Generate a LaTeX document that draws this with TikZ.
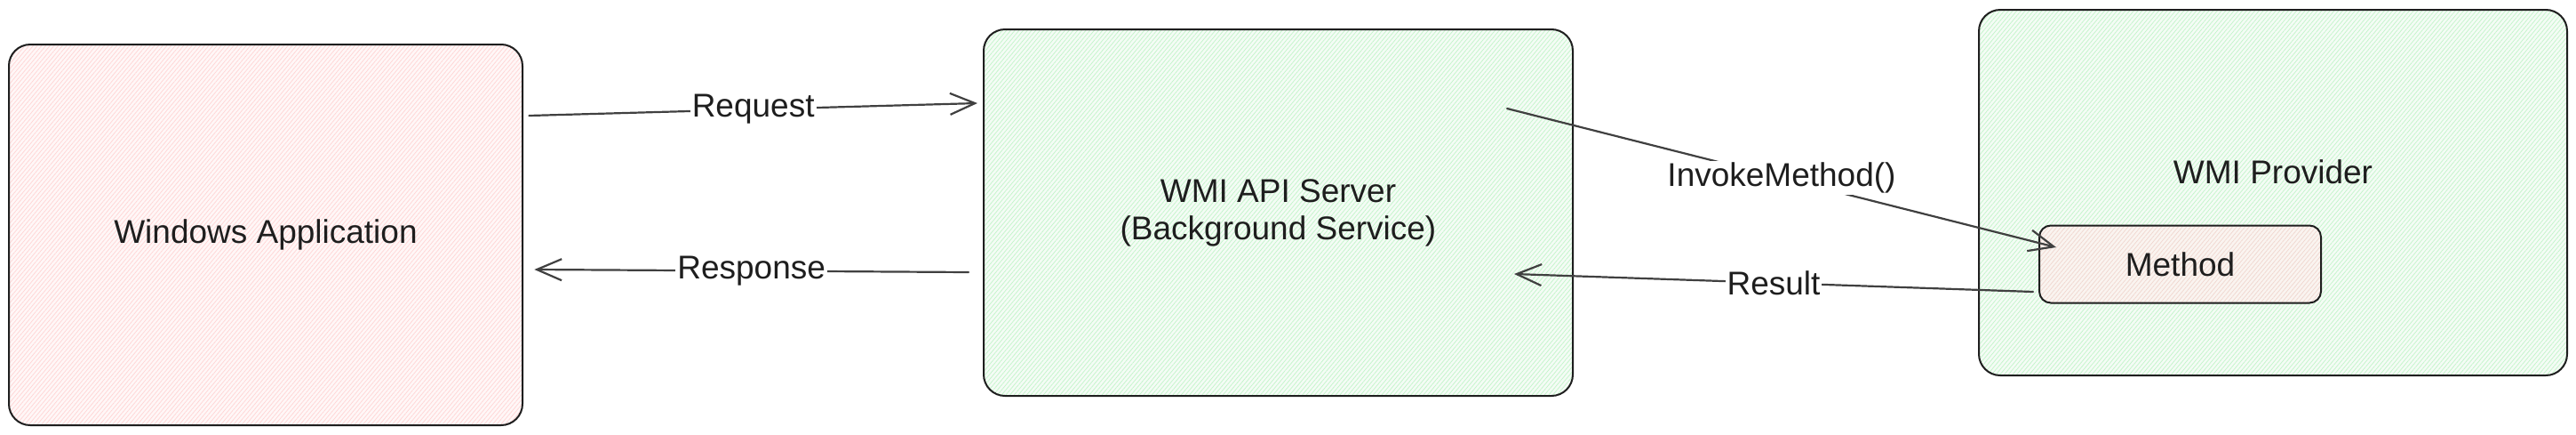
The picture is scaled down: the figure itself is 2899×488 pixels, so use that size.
\documentclass[tikz,border=0pt]{standalone}
\usepackage{fontspec}
\setmainfont{Liberation Sans}
\usetikzlibrary{arrows.meta,patterns.meta}
\definecolor{ink}{HTML}{1E1E1E}
\definecolor{pinkfill}{HTML}{FFF7F7}
\definecolor{pinkline}{HTML}{FFD4D4}
\definecolor{greenfill}{HTML}{F4FCF5}
\definecolor{greenline}{HTML}{C2F4C9}
\definecolor{beigefill}{HTML}{FAF4F0}
\definecolor{beigeline}{HTML}{F0D6CE}
\begin{document}
\begin{tikzpicture}[x=1pt,y=-1pt,
  txt/.style={font=\fontsize{37}{42}\selectfont, text=ink},
  box/.style={txt, draw=ink, line width=2pt, rounded corners=24pt, inner sep=0pt},
  pinkbox/.style={box, preaction={fill=pinkfill}, pattern={Lines[angle=50,distance=3.6pt,line width=0.7pt]}, pattern color=pinkline},
  greenbox/.style={box, preaction={fill=greenfill}, pattern={Lines[angle=50,distance=3.6pt,line width=0.7pt]}, pattern color=greenline},
  methodbox/.style={box, rounded corners=13pt, preaction={fill=beigefill}, pattern={Lines[angle=50,distance=3.6pt,line width=0.7pt]}, pattern color=beigeline},
  lbl/.style={txt, fill=white, inner sep=2pt},
  arr/.style={draw=ink!85, line width=2.2pt, line cap=round, -{Straight Barb[length=28pt,width=24pt]}}
]
\useasboundingbox (0,0) rectangle (2899,488);
\node[pinkbox, minimum width=578pt, minimum height=428pt] (app) at (299,264) {Windows Application};
\node[greenbox, minimum width=663pt, minimum height=412pt, align=center] (server) at (1438.5,239) {WMI API Server\\(Background Service)};
\node[greenbox, minimum width=662pt, minimum height=411pt] (provider) at (2558,216.5) {};
\node[txt] (provlabel) at (2558,193) {WMI Provider};
\node[methodbox, minimum width=317pt, minimum height=87pt] (method) at (2453.5,297) {Method};
\draw[arr] ([xshift=7pt,yshift=134pt]app.east) -- node[lbl]{Request} ([xshift=-6pt,yshift=123pt]server.west);
\draw[arr] ([xshift=-16pt,yshift=-67pt]server.west) -- node[lbl]{Response} ([xshift=13pt,yshift=-39pt]app.east);
\draw[arr] ([xshift=-75pt,yshift=117pt]server.east) -- node[lbl]{InvokeMethod()} ([xshift=20pt,yshift=19pt]method.west);
\draw[arr] ([xshift=-6pt,yshift=-31pt]method.west) -- node[lbl]{Result} ([xshift=-67pt,yshift=-69pt]server.east);
\end{tikzpicture}
\end{document}
